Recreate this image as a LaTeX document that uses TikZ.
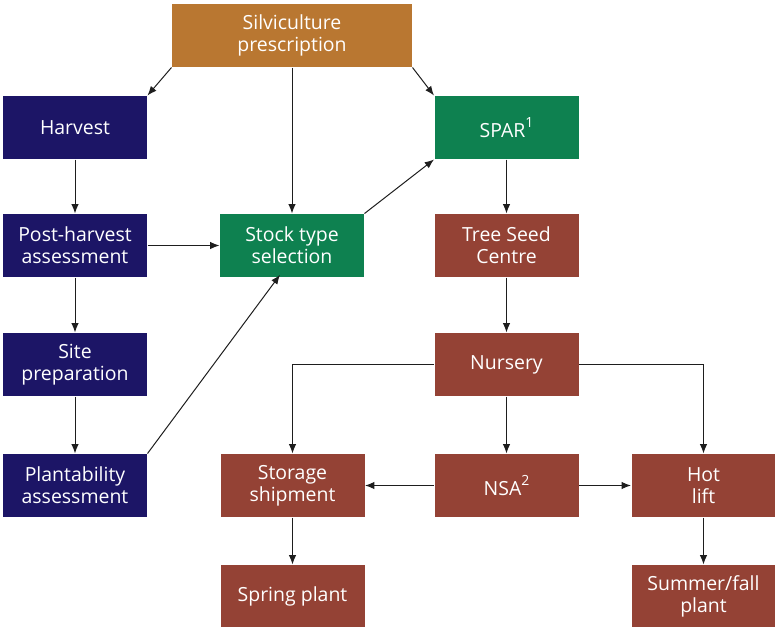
\documentclass[tikz,border=0pt]{standalone}
\usepackage{fontspec}
\setmainfont{Open Sans}
\usetikzlibrary{arrows.meta}

\definecolor{silvbrown}{RGB}{185,119,49}
\definecolor{navyblue}{RGB}{28,21,102}
\definecolor{sparGreen}{RGB}{14,129,80}
\definecolor{nurseryRed}{RGB}{148,66,53}

\newcommand{\supnum}[1]{\raisebox{0.9ex}{\fontsize{10.5}{12}\selectfont #1}}

\tikzset{every picture/.style={line width=0.75pt}}
\tikzset{
  box/.style={draw=none, text=white, align=center, inner sep=0.75pt,
    minimum width=108pt, minimum height=47.25pt,
    font=\fontsize{14.6}{16.5}\selectfont},
  arr/.style={-{Latex[length=7pt,width=5.5pt]}, color={rgb, 255:red, 30; green, 30; blue, 30 }}
}

\begin{document}
\begin{tikzpicture}[x=0.75pt,y=0.75pt,yscale=-1,xscale=1]
\useasboundingbox (0,0) rectangle (775,626);

% Text Node
\node [box, fill=silvbrown, minimum width=180pt] (silv) at (292,35.5) {Silviculture\\prescription};
% Text Node
\node [box, fill=navyblue] (harvest) at (75,127.5) {Harvest};
% Text Node
\node [box, fill=navyblue] (post) at (75,245.5) {Post-harvest\\assessment};
% Text Node
\node [box, fill=navyblue] (site) at (75,364.5) {Site\\preparation};
% Text Node
\node [box, fill=navyblue] (plant) at (75,485.5) {Plantability\\assessment};
% Text Node
\node [box, fill=sparGreen] (stock) at (292,245.5) {Stock type\\selection};
% Text Node
\node [box, fill=sparGreen] (spar) at (506.5,127.5) {SPAR\supnum{1}};
% Text Node
\node [box, fill=nurseryRed] (seed) at (506.5,245.5) {Tree Seed\\Centre};
% Text Node
\node [box, fill=nurseryRed] (nursery) at (506.5,364.5) {Nursery};
% Text Node
\node [box, fill=nurseryRed] (nsa) at (506.5,485.5) {NSA\supnum{2}};
% Text Node
\node [box, fill=nurseryRed] (storage) at (292.5,485.5) {Storage\\shipment};
% Text Node
\node [box, fill=nurseryRed] (hot) at (703.5,485.5) {Hot\\lift};
% Text Node
\node [box, fill=nurseryRed] (spring) at (292.5,596.5) {Spring plant};
% Text Node
\node [box, fill=nurseryRed] (summer) at (703.5,596.5) {Summer/fall\\plant};

%Straight Lines
\draw [arr] (silv.south west) -- (harvest.north east) ;
\draw [arr] (silv.south) -- (stock.north) ;
\draw [arr] (silv.south east) -- (spar.north west) ;
\draw [arr] (harvest) -- (post) ;
\draw [arr] (post) -- (stock) ;
\draw [arr] (post) -- (site) ;
\draw [arr] (site) -- (plant) ;
\draw [arr] (plant.north east) -- ([xshift=-9pt,yshift=-2pt]stock.south) ;
\draw [arr] (stock.north east) -- (spar.south west) ;
\draw [arr] (spar) -- (seed) ;
\draw [arr] (seed) -- (nursery) ;
\draw [arr] (nursery) -- (nsa) ;
\draw [arr] (nursery.west) -| (storage.north) ;
\draw [arr] (nursery.east) -| (hot.north) ;
\draw [arr] (nsa) -- (storage) ;
\draw [arr] (nsa) -- (hot) ;
\draw [arr] (storage) -- (spring) ;
\draw [arr] (hot) -- (summer) ;

\end{tikzpicture}
\end{document}
